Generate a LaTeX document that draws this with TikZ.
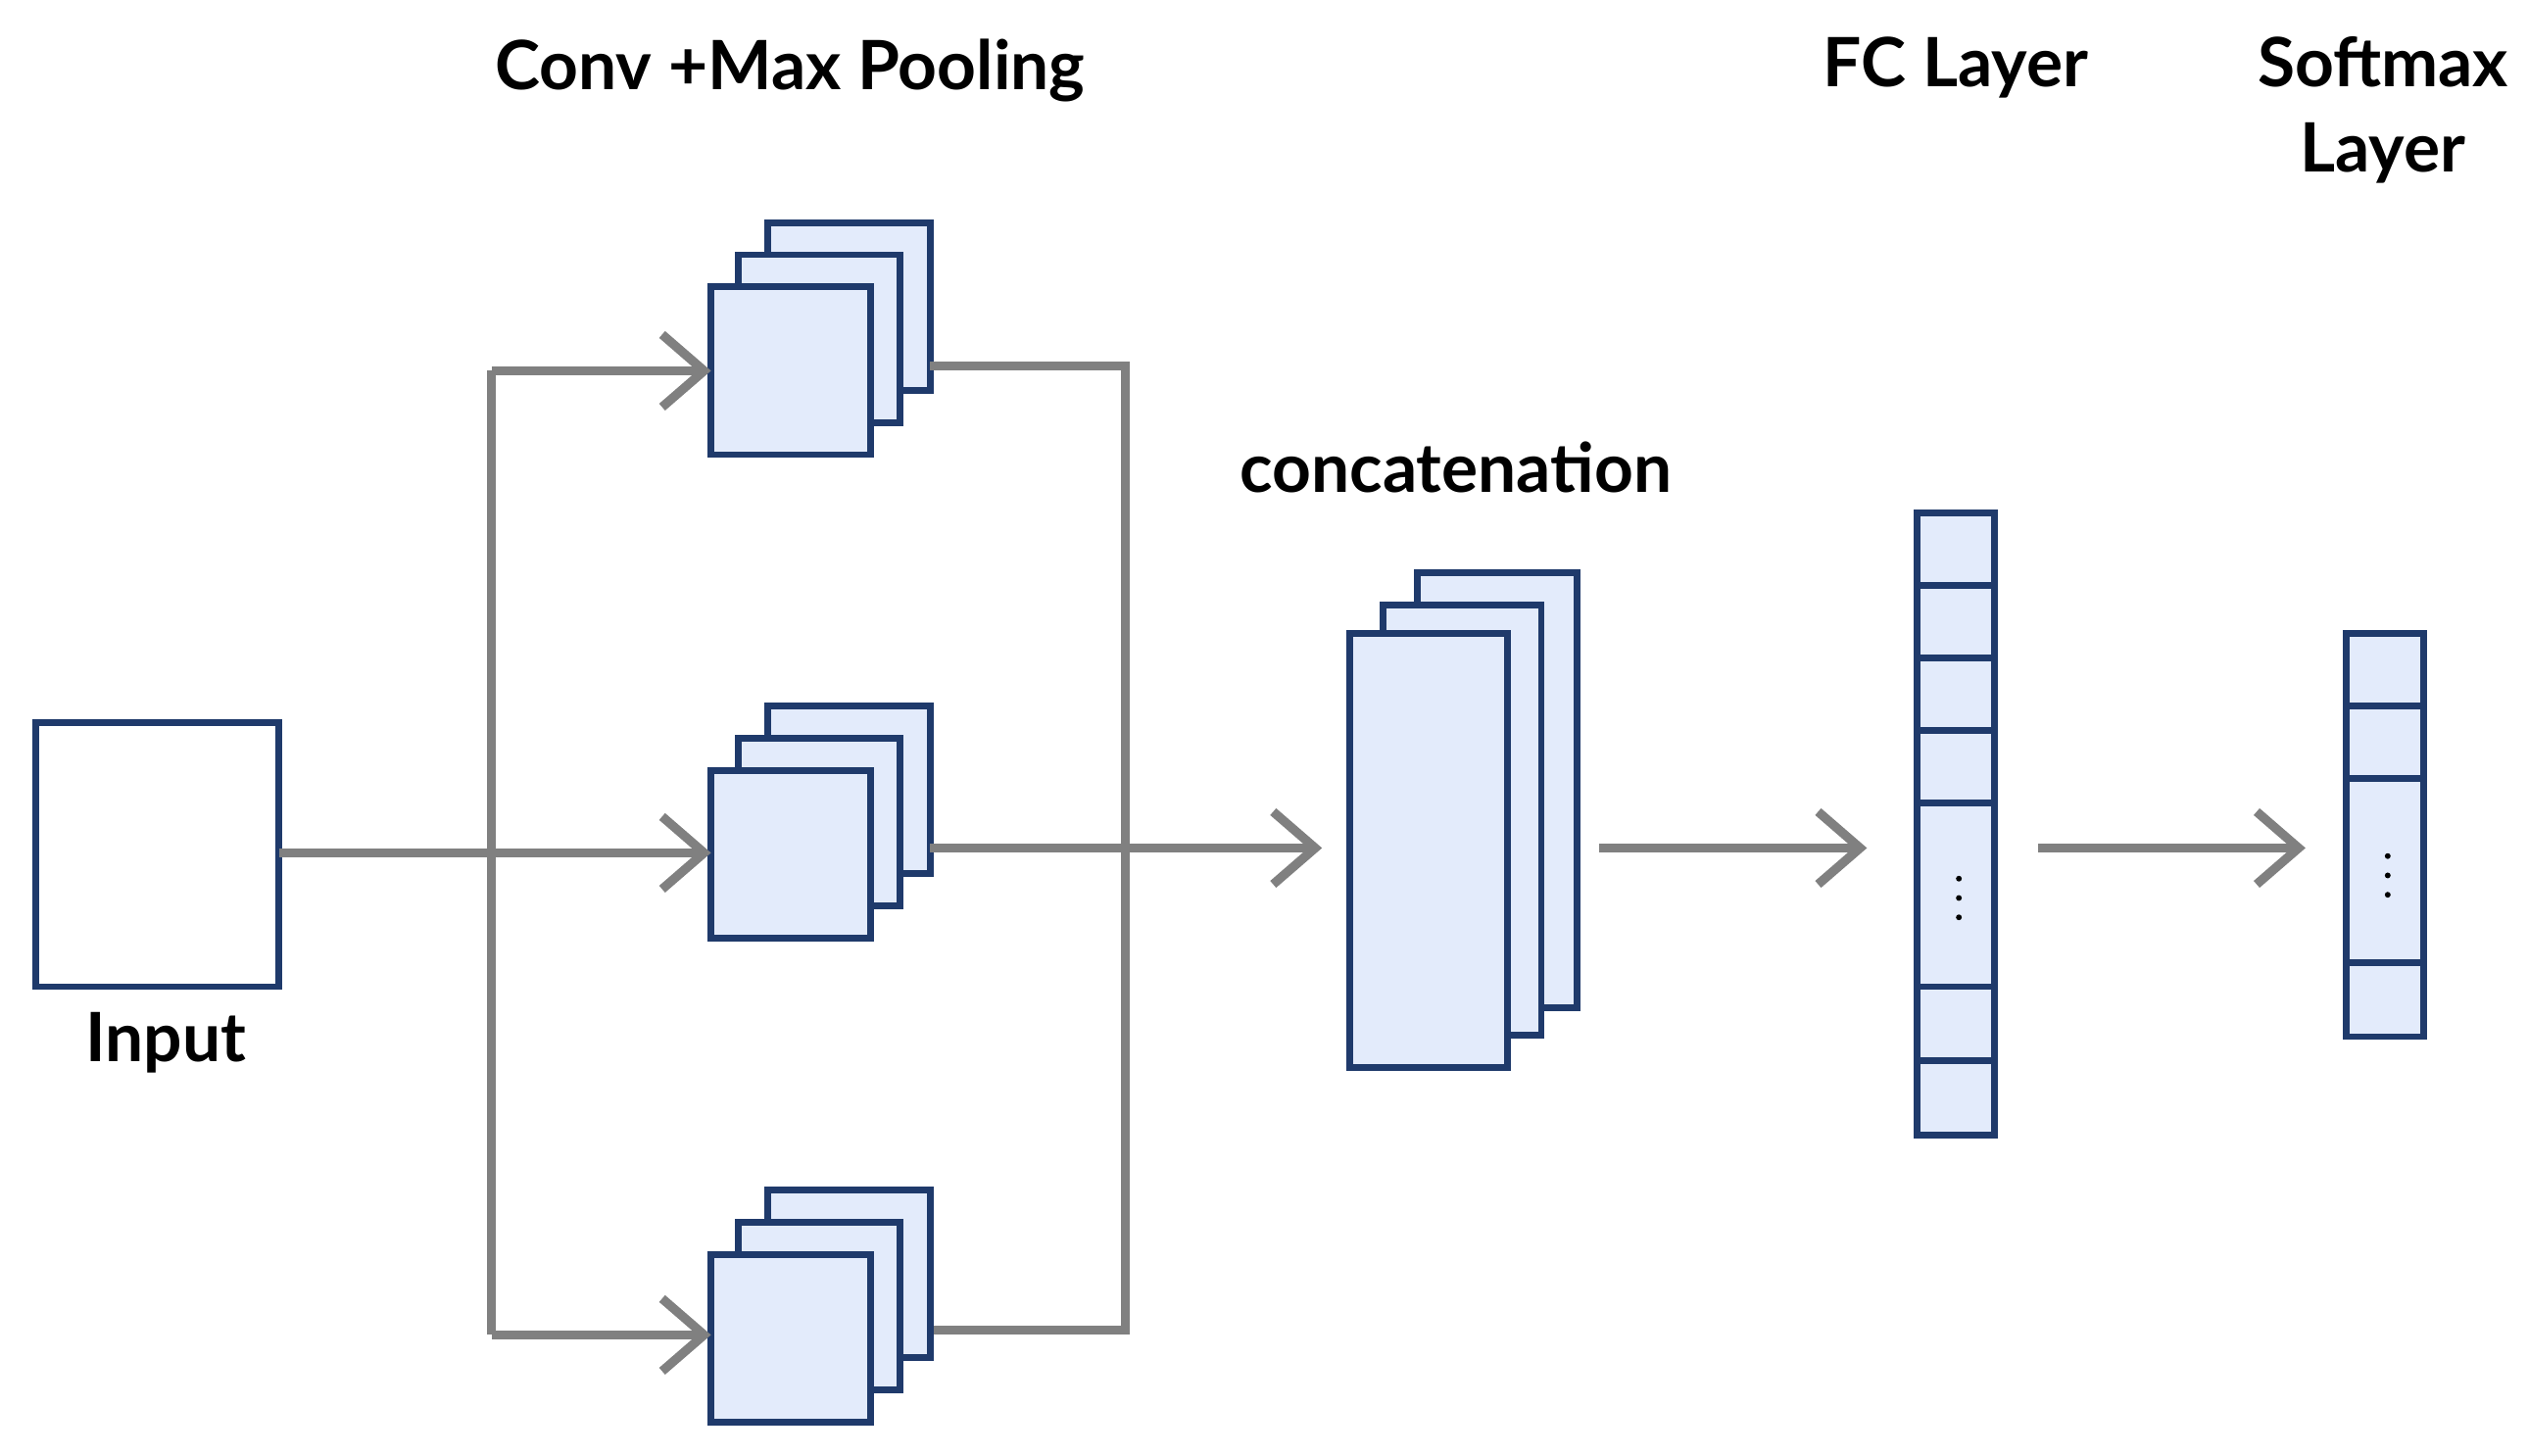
\documentclass[tikz,border=0pt]{standalone}
\usepackage{fontspec}
\setmainfont{Lato}
\usetikzlibrary{arrows.meta}
\begin{document}
\begin{tikzpicture}[x=0.01cm,y=-0.01cm,
 box/.style={draw=blue!40!black!80, fill=blue!10!white, line width=1.2pt},
 conn/.style={draw=black!50, line width=1.6pt},
 arr/.style={conn,-{Straight Barb[length=2.6mm,width=4.5mm,line width=1.6pt]}},
 lab/.style={font=\fontsize{12}{15}\selectfont\bfseries, align=center}]
\definecolor{bx}{HTML}{1F3A6B}\definecolor{fl}{HTML}{E3EBFB}
\tikzset{box/.style={draw=bx, fill=fl, line width=1.2pt}}
\useasboundingbox (0,0) rectangle (1568,903);
% labels
\node[lab] (tconv) at (490,44) {Conv +Max Pooling};
\node[lab] (tfc) at (1213,42) {FC Layer};
\node[lab] (tsm) at (1478,68) {Softmax\\Layer};
\node[lab] (tcat) at (903,290) {concatenation};
\node[lab] (tin) at (103,647) {Input};
% input
\draw[draw=bx, line width=1.2pt] (22,448) rectangle (173,612);
\coordinate (inr) at (173,529);
% stacks
\foreach \n/\dy in {a/0,b/300,c/600}{
 \draw[box] (476,138+\dy) rectangle (577,242+\dy);
 \draw[box] (458,158+\dy) rectangle (558,262+\dy);
 \draw[box] (441,178+\dy) rectangle (540,282+\dy);
}
\coordinate (j) at (305,529);
\coordinate (jt) at (305,230); \coordinate (jb) at (305,828);
\coordinate (sa) at (441,230); \coordinate (sb) at (441,529); \coordinate (sc) at (441,828);
\draw[conn] (inr) -- (j);
\draw[conn] (jt) -- (jb);
\draw[arr] (jt) -- (sa);
\draw[arr] (j) -- (sb);
\draw[arr] (jb) -- (sc);
\coordinate (oa) at (577,227); \coordinate (ob) at (577,526); \coordinate (oc) at (579,825);
\coordinate (cat) at (820,526);
\draw[conn] (oa) -- (698,227) -- (698,825) -- (oc);
\draw[arr] (ob) -- (cat);
% concat
\draw[box] (879,355) rectangle (978,625);
\draw[box] (858,375) rectangle (956,642);
\draw[box] (837,393) rectangle (935,662);
\coordinate (c1) at (992,526); \coordinate (f1) at (1158,526);
\draw[arr] (c1) -- (f1);
% FC
\draw[box] (1189,318) rectangle (1237,704);
\foreach \y in {363,408,453,498,612,658} \draw[draw=bx,line width=1.2pt] (1189,\y) -- (1237,\y);
\foreach \y in {545,557,569} \fill (1215,\y) circle (1.8);
\coordinate (f2) at (1264,526); \coordinate (s1) at (1430,526);
\draw[arr] (f2) -- (s1);
% softmax
\draw[box] (1455,393) rectangle (1503,643);
\foreach \y in {438,483,597} \draw[draw=bx,line width=1.2pt] (1455,\y) -- (1503,\y);
\foreach \y in {531,543,555} \fill (1481,\y) circle (1.8);
\end{tikzpicture}
\end{document}
